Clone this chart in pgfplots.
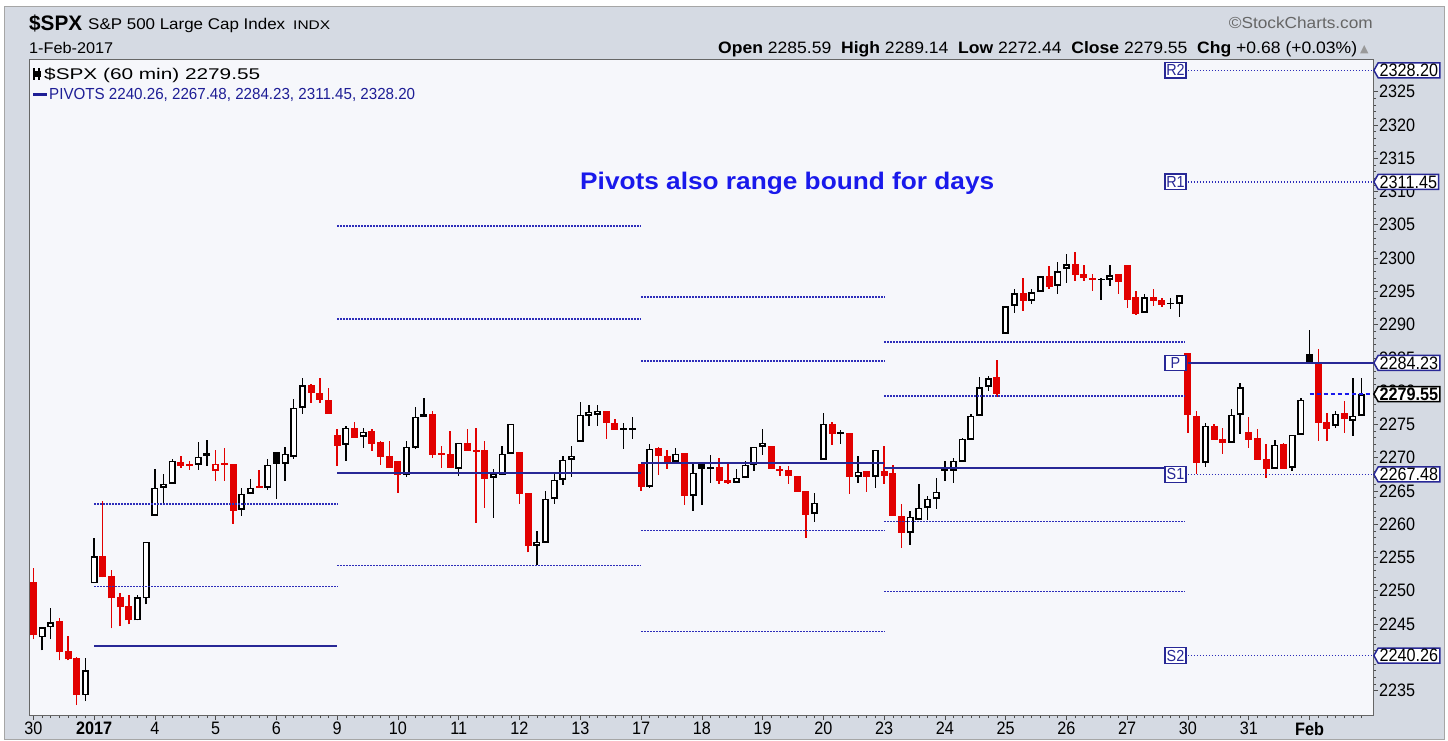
\documentclass[border=0pt]{standalone}
\usepackage{fontspec}
\setmainfont{Liberation Sans}
\newfontfamily\tickfont[FakeStretch=0.9]{Liberation Sans}
\newfontfamily\dejavu{DejaVu Sans}
\usepackage{graphicx}
\usepackage{pgfplots}
\pgfplotsset{compat=1.18}
\usepackage{pgfplotstable}
\usetikzlibrary{shapes.symbols}

\definecolor{framebg}{RGB}{213,218,227}
\definecolor{plotbg}{RGB}{246,247,251}
\definecolor{cred}{RGB}{226,0,0}
\definecolor{pivsolid}{RGB}{40,40,150}
\definecolor{pivdot}{RGB}{45,45,185}
\definecolor{annot}{RGB}{25,25,235}
\definecolor{legblue}{RGB}{30,30,150}

% x = hourly bar index (7 per session), l = low, h = high, bl/bh = body low/high
\pgfplotstableread{
x l h bl bh
0 2242.7 2253.35 2243.3 2251.25
3 2239.55 2245.85 2240.75 2245.4
4 2239.55 2243.15 2239.7 2240.9
5 2232.8 2240.0 2234.3 2239.85
8 2252.0 2263.55 2252.0 2255.15
9 2244.35 2253.05 2248.85 2252.15
10 2244.65 2249.6 2247.5 2249.0
11 2244.95 2249.3 2245.55 2247.65
17 2268.5 2270.3 2268.8 2269.4
18 2268.2 2269.55 2268.8 2269.1
22 2266.55 2271.5 2268.95 2269.1
23 2260.1 2269.1 2262.05 2269.1
26 2265.5 2268.2 2265.5 2265.65
32 2278.25 2281.1 2279.75 2280.95
33 2278.25 2282.0 2278.7 2279.75
34 2276.6 2280.5 2276.6 2278.7
35 2268.8 2274.35 2271.8 2273.45
37 2273.0 2275.4 2273.0 2274.5
39 2271.05 2274.35 2272.1 2274.05
40 2268.95 2272.55 2270.15 2272.4
41 2268.5 2272.55 2268.5 2270.3
42 2264.75 2269.55 2267.45 2269.55
46 2270.0 2277.05 2270.45 2276.6
47 2268.5 2271.8 2270.45 2270.6
48 2268.5 2274.05 2268.5 2270.6
50 2271.05 2274.35 2271.05 2272.25
51 2260.25 2274.5 2270.9 2271.05
52 2262.5 2272.55 2266.85 2271.2
56 2263.1 2270.9 2264.6 2270.9
57 2255.75 2264.75 2256.8 2264.75
66 2272.85 2277.05 2275.25 2277.05
67 2274.2 2275.85 2274.2 2275.25
70 2265.05 2269.1 2265.65 2269.1
72 2267.45 2271.65 2270.3 2271.5
73 2268.35 2271.2 2269.25 2270.3
75 2262.95 2270.75 2264.3 2270.75
79 2266.1 2270.0 2266.55 2268.65
80 2266.1 2269.1 2266.25 2266.7
85 2268.35 2271.8 2268.35 2271.8
86 2267.3 2268.8 2268.05 2268.35
87 2266.1 2268.8 2267.3 2268.2
88 2264.9 2267.3 2264.9 2267.3
89 2258.0 2265.05 2261.45 2265.05
92 2271.95 2275.4 2273.6 2275.1
94 2264.6 2273.75 2267.15 2273.75
96 2264.9 2268.05 2267.15 2268.05
98 2266.1 2271.8 2267.3 2268.05
99 2261.3 2268.95 2261.3 2267.75
100 2256.5 2263.1 2258.75 2261.3
111 2279.15 2284.7 2279.6 2282.15
114 2292.05 2297.0 2293.55 2294.75
117 2295.35 2298.8 2295.65 2297.3
120 2296.55 2300.9 2297.45 2299.1
121 2296.55 2298.95 2297.0 2297.6
122 2295.05 2297.6 2296.7 2297.0
125 2294.6 2297.6 2296.4 2297.6
126 2292.5 2298.95 2293.7 2298.95
127 2291.45 2295.05 2291.6 2294.15
129 2292.8 2295.35 2293.55 2294.15
130 2292.65 2294.0 2292.95 2293.7
133 2273.75 2285.75 2276.45 2285.75
134 2267.6 2277.05 2269.25 2276.3
136 2272.7 2275.1 2272.7 2274.8
137 2270.6 2274.5 2272.25 2272.85
140 2271.5 2276.15 2272.7 2273.9
141 2269.7 2274.35 2269.7 2273.0
142 2267.0 2272.1 2268.35 2269.85
144 2268.35 2272.25 2268.35 2272.1
148 2272.55 2286.35 2275.25 2284.4
149 2272.44 2276.75 2274.35 2275.4
151 2273.75 2278.55 2275.85 2276.75
}\redtab

\pgfplotstableread{
x l h bl bh
21 2266.55 2271.2 2268.05 2269.1
}\hredtab

\pgfplotstableread{
x l h bl bh
20 2268.8 2272.7 2270.3 2270.75
28 2263.85 2270.9 2269.1 2270.9
45 2276.15 2279.0 2276.15 2276.6
68 2271.35 2275.25 2274.2 2274.35
69 2272.85 2276.15 2274.2 2274.5
77 2262.95 2269.1 2268.35 2269.1
78 2266.25 2270.45 2268.35 2268.5
93 2272.1 2274.2 2273.6 2273.75
105 2266.55 2269.55 2268.05 2268.2
123 2293.7 2297.0 2296.7 2296.85
131 2292.35 2294.0 2293.1 2293.25
147 2284.1 2289.14 2284.1 2285.59
}\blktab

\pgfplotstableread{
x l h bl bh
1 2241.05 2244.5 2243.0 2244.5
2 2242.7 2247.35 2244.5 2245.25
6 2233.4 2239.85 2234.3 2238.05
7 2251.1 2258.0 2251.1 2255.15
12 2245.55 2249.3 2245.55 2249.0
13 2247.95 2257.4 2248.85 2257.4
14 2261.3 2268.35 2261.3 2265.5
15 2263.1 2267.6 2265.5 2266.1
16 2266.1 2269.85 2266.1 2269.55
19 2268.2 2272.4 2268.95 2270.15
24 2261.3 2265.5 2262.2 2264.6
25 2264.6 2266.85 2264.6 2265.5
27 2265.2 2269.85 2265.5 2268.95
29 2266.55 2271.65 2269.1 2270.6
30 2269.85 2278.85 2270.15 2277.5
31 2276.6 2282.0 2277.5 2280.95
36 2269.55 2274.8 2271.95 2274.5
38 2271.5 2274.5 2273.15 2273.9
43 2267.15 2272.55 2267.45 2271.65
44 2271.35 2277.65 2271.5 2276.15
49 2267.3 2272.25 2268.35 2272.25
53 2261.0 2268.35 2267.0 2267.45
54 2267.45 2271.8 2267.45 2270.6
55 2270.6 2275.1 2270.6 2275.1
58 2253.8 2259.05 2256.8 2257.25
59 2257.25 2265.05 2257.25 2263.85
60 2263.1 2267.75 2263.85 2266.7
61 2265.95 2270.3 2266.7 2269.7
62 2267.15 2271.8 2269.7 2270.3
63 2272.4 2278.4 2272.4 2276.45
64 2274.8 2277.95 2276.3 2276.6
65 2274.8 2277.95 2276.45 2276.9
71 2265.5 2272.1 2265.65 2271.35
74 2269.4 2271.5 2269.4 2270.6
76 2262.05 2269.1 2264.3 2267.75
81 2266.25 2268.35 2266.25 2267.0
82 2267.0 2269.55 2267.0 2268.95
83 2268.05 2271.65 2268.95 2271.65
84 2270.45 2274.35 2271.65 2271.95
90 2260.4 2264.75 2261.6 2263.25
91 2269.7 2276.75 2269.7 2275.1
95 2266.25 2270.3 2267.15 2267.9
97 2265.5 2271.2 2267.15 2271.2
101 2256.95 2262.05 2258.75 2261.15
102 2260.7 2266.1 2260.7 2262.5
103 2260.7 2264.3 2262.5 2263.85
104 2262.35 2267.0 2263.85 2264.9
106 2266.25 2270.0 2268.05 2269.55
107 2269.4 2273.0 2269.4 2272.85
108 2272.7 2276.6 2272.7 2276.3
109 2276.3 2282.15 2276.3 2280.65
110 2280.05 2282.3 2280.65 2282.0
112 2288.6 2292.8 2288.6 2292.8
113 2291.75 2295.35 2292.8 2294.75
115 2293.1 2295.35 2293.55 2294.9
116 2294.9 2297.3 2294.9 2297.3
118 2294.6 2299.4 2295.8 2298.05
119 2296.25 2300.6 2298.35 2299.1
124 2295.8 2298.95 2296.7 2297.45
128 2291.75 2294.6 2291.75 2294.15
132 2291.15 2294.45 2293.1 2294.45
135 2268.65 2275.25 2269.25 2274.8
138 2272.25 2277.35 2272.25 2276.45
139 2273.6 2281.25 2276.45 2280.65
143 2268.35 2272.7 2268.35 2271.95
145 2268.05 2273.45 2268.5 2273.45
146 2273.45 2279.0 2273.45 2278.7
150 2274.5 2277.05 2274.8 2276.6
152 2273.3 2282.0 2275.55 2276.3
153 2276.3 2282.0 2276.3 2279.55
}\holtab

\pgfplotsset{
  wick/.style={draw=none, forget plot, error bars/.cd, y dir=plus, y explicit, error mark=none,
    error bar style={draw=#1, line width=1.4pt}},
  body/.style={draw=none, forget plot, error bars/.cd, y dir=plus, y explicit, error mark=none,
    error bar style={draw=#1, line width=7pt, line cap=butt}},
  inner/.style={draw=none, forget plot, error bars/.cd, y dir=plus, y explicit, error mark=none,
    error bar style={draw=white, line width=3.6pt, line cap=butt}},
  pd/.style={pivdot, line width=1.5pt, dash pattern=on 1.5pt off 1.5pt, forget plot},
  ps/.style={pivsolid, line width=2pt, forget plot},
}

\begin{document}
\begin{tikzpicture}
\useasboundingbox (0pt,0pt) rectangle (1448pt,740pt);
\fill[white] (0pt,0pt) rectangle (1448pt,740pt);
\filldraw[fill=framebg, draw=gray!70, line width=1pt] (4pt,1pt) rectangle (1444pt,733.5pt);
\begin{axis}[
  at={(29.5pt,25pt)}, anchor=south west, scale only axis,
  width=1343.5pt, height=655.5pt,
  xmin=-0.44, xmax=154.31, ymin=2231.33, ymax=2329.83,
  axis background/.style={fill=plotbg},
  axis line style={draw=gray!80!black, line width=1pt},
  clip mode=individual,
  xtick pos=bottom, ytick pos=right, yticklabel pos=right,
  tick align=outside,
  major tick length=5pt, minor tick length=3pt,
  every tick/.style={gray!60!black, line width=0.6pt},
  ytick={2235,2240,...,2325},
  minor y tick num=4,
  xtick={0,7,...,147},
  xticklabels={30,\textbf{2017},4,5,6,9,10,11,12,13,17,18,19,20,23,24,25,26,27,30,31,\textbf{Feb}},
  minor xtick={0,...,153},
  /pgf/number format/assume math mode=true,
  /pgf/number format/1000 sep={},
  yticklabel style={font=\tickfont\fontsize{18}{18}\selectfont, anchor=west, inner sep=0pt, xshift=1pt},
  xticklabel style={font=\tickfont\fontsize{18}{18}\selectfont, anchor=north, inner sep=0pt, yshift=-2pt},
]
% wicks
\addplot[wick=cred] table[x=x, y=l, y error expr=\thisrow{h}-\thisrow{l}] {\redtab};
\addplot[wick=cred] table[x=x, y=l, y error expr=\thisrow{h}-\thisrow{l}] {\hredtab};
\addplot[wick=black] table[x=x, y=l, y error expr=\thisrow{h}-\thisrow{l}] {\blktab};
\addplot[wick=black] table[x=x, y=l, y error expr=\thisrow{h}-\thisrow{l}] {\holtab};
% bodies
\addplot[body=cred] table[x=x, y=bl, y error expr={max(\thisrow{bh}-\thisrow{bl},0.2)}] {\redtab};
\addplot[body=black] table[x=x, y=bl, y error expr={max(\thisrow{bh}-\thisrow{bl},0.2)}] {\blktab};
\addplot[body=cred] table[x=x, y=bl, y error expr={max(\thisrow{bh}-\thisrow{bl},0.6)}] {\hredtab};
\addplot[body=black] table[x=x, y=bl, y error expr={max(\thisrow{bh}-\thisrow{bl},0.6)}] {\holtab};
\addplot[inner] table[x=x, y expr=\thisrow{bl}+0.26, y error expr={max(\thisrow{bh}-\thisrow{bl}-0.52,0.08)}] {\hredtab};
\addplot[inner] table[x=x, y expr=\thisrow{bl}+0.26, y error expr={max(\thisrow{bh}-\thisrow{bl}-0.52,0.08)}] {\holtab};
% weekly pivot levels
\addplot[pd] coordinates {(7,2263.0) (35,2263.0)};
\addplot[pd] coordinates {(7,2250.65) (35,2250.65)};
\addplot[ps] coordinates {(7,2241.7) (35,2241.7)};
\addplot[pd] coordinates {(35,2304.8) (70,2304.8)};
\addplot[pd] coordinates {(35,2290.85) (70,2290.85)};
\addplot[ps] coordinates {(35,2267.7) (70,2267.7)};
\addplot[pd] coordinates {(35,2253.8) (70,2253.8)};
\addplot[pd] coordinates {(70,2294.15) (98,2294.15)};
\addplot[pd] coordinates {(70,2284.55) (98,2284.55)};
\addplot[ps] coordinates {(70,2269.15) (98,2269.15)};
\addplot[pd] coordinates {(70,2259.05) (98,2259.05)};
\addplot[pd] coordinates {(70,2243.9) (98,2243.9)};
\addplot[pd] coordinates {(98,2287.4) (132.7,2287.4)};
\addplot[pd] coordinates {(98,2279.3) (132.7,2279.3)};
\addplot[ps] coordinates {(98,2268.5) (132.7,2268.5)};
\addplot[pd] coordinates {(98,2260.4) (132.7,2260.4)};
\addplot[pd] coordinates {(98,2249.9) (132.7,2249.9)};
\addplot[pd] coordinates {(133,2328.2) (154.31,2328.2)};
\addplot[pd] coordinates {(133,2311.45) (154.31,2311.45)};
\addplot[ps] coordinates {(133,2284.23) (154.31,2284.23)};
\addplot[pd] coordinates {(133,2267.48) (154.31,2267.48)};
\addplot[pd] coordinates {(133,2240.26) (154.31,2240.26)};
\addplot[draw=annot, line width=1.5pt, dash pattern=on 4pt off 3pt, forget plot] coordinates {(147,2279.55) (154.31,2279.55)};
% anchors for labels
\coordinate (rR2) at (axis cs:154.31,2328.2);
\coordinate (rR1) at (axis cs:154.31,2311.45);
\coordinate (rP) at (axis cs:154.31,2284.23);
\coordinate (rS1) at (axis cs:154.31,2267.48);
\coordinate (rS2) at (axis cs:154.31,2240.26);
\coordinate (rC) at (axis cs:154.31,2279.55);
\coordinate (lR2) at (axis cs:132.85,2328.2);
\coordinate (lR1) at (axis cs:132.85,2311.45);
\coordinate (lP) at (axis cs:132.85,2284.23);
\coordinate (lS1) at (axis cs:132.85,2267.48);
\coordinate (lS2) at (axis cs:132.85,2240.26);
\end{axis}

% right value boxes
\tikzset{rbox/.style={signal, signal to=west, signal pointer angle=120, draw=pivsolid, fill=white,
   line width=1.5pt, inner xsep=1.5pt, inner ysep=0pt, minimum height=15pt, anchor=west,
   font=\tickfont\fontsize{18}{18}\selectfont, text=black},
   lbox/.style={draw=pivsolid, fill=white, line width=1.3pt, inner sep=0pt, minimum height=15.5pt,
   minimum width=21pt, anchor=east, text=pivsolid, font=\tickfont\fontsize{16}{16}\selectfont}}
\node[rbox] at (rR2) {2328.20};
\node[rbox] at (rR1) {2311.45};
\node[rbox] at (rP) {2284.23};
\node[rbox] at (rS1) {2267.48};
\node[rbox] at (rS2) {2240.26};
\node[rbox, draw=black, font=\tickfont\bfseries\fontsize{18}{18}\selectfont] at (rC) {2279.55};
\node[lbox] at (lR2) {R2};
\node[lbox] at (lR1) {R1};
\node[lbox] at (lP) {P};
\node[lbox] at (lS1) {S1};
\node[lbox] at (lS2) {S2};

% header
\node[anchor=base west, inner sep=0] at (29pt,709pt) {\resizebox{53pt}{\height}{\fontsize{21}{21}\selectfont\bfseries \$SPX}};
\node[anchor=base west, inner sep=0] at (88pt,710.5pt) {\resizebox{197pt}{\height}{\fontsize{15.5}{15.5}\selectfont S\&P 500 Large Cap Index}};
\node[anchor=base west, inner sep=0] at (293pt,710.5pt) {\resizebox{37pt}{\height}{\fontsize{12.5}{12.5}\selectfont INDX}};
\node[anchor=base west, inner sep=0] at (29pt,686.5pt) {\resizebox{84pt}{\height}{\fontsize{15.5}{15.5}\selectfont 1-Feb-2017}};
\node[anchor=base east, inner sep=0, text=black!60] at (1373pt,711.5pt) {\resizebox{144pt}{\height}{\fontsize{16}{16}\selectfont \textcopyright StockCharts.com}};
\node[anchor=base west, inner sep=0] at (718pt,686.5pt) {\resizebox{639pt}{\height}{\fontsize{16.5}{16.5}\selectfont \textbf{Open} 2285.59 \ \textbf{High} 2289.14 \ \textbf{Low} 2272.44 \ \textbf{Close} 2279.55 \ \textbf{Chg} +0.68 (+0.03\%)}};
\node[anchor=base west, inner sep=0, text=gray!80] at (1360pt,687.5pt) {\dejavu\fontsize{11}{11}\selectfont ▲};

% legend
\node[anchor=base west, inner sep=0] at (33pt,660.5pt) {\rule[-0.5pt]{1.3pt}{12pt}\hspace{-1.3pt}\rule[2pt]{4pt}{6pt}\hspace{1pt}\rule[-0.5pt]{1.3pt}{12pt}\hspace{-2.6pt}\rule[2.5pt]{4pt}{6pt}};
\node[anchor=base west, inner sep=0] at (44pt,660.5pt) {\resizebox{216pt}{\height}{\fontsize{15.5}{15.5}\selectfont \$SPX (60 min) 2279.55}};
\fill[legblue] (33pt,643.5pt) rectangle (47pt,646.5pt);
\node[anchor=base west, inner sep=0, text=legblue] at (49pt,640.7pt) {\resizebox{366pt}{\height}{\fontsize{16}{16}\selectfont PIVOTS 2240.26, 2267.48, 2284.23, 2311.45, 2328.20}};

% annotation
\node[anchor=base west, inner sep=0, text=annot] at (580pt,550pt) {\resizebox{414pt}{\height}{\fontsize{24}{24}\selectfont\bfseries Pivots also range bound for days}};
\end{tikzpicture}
\end{document}
